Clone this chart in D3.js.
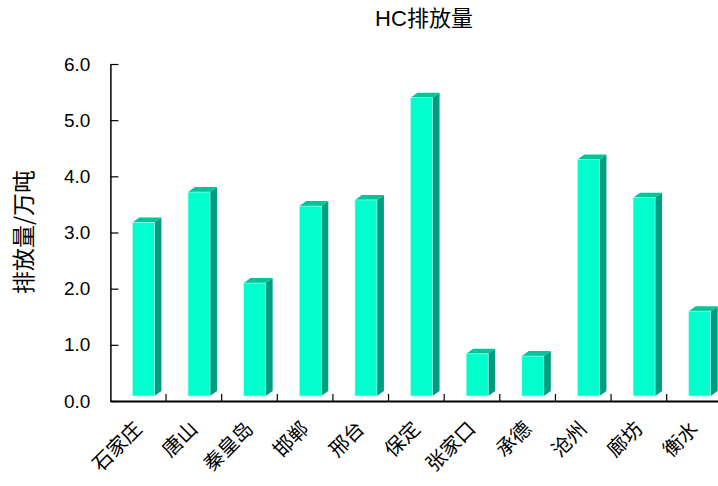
<!DOCTYPE html>
<html><head><meta charset="utf-8">
<script src="https://cdn.jsdelivr.net/npm/d3@7/dist/d3.min.js"></script>
<style>body{margin:0;background:#fff;}svg{display:block;}</style>
</head><body>
<svg id="c" width="718" height="486"></svg>
<script>
const categories = ["石家庄","唐山","秦皇岛","邯郸","邢台","保定","张家口","承德","沧州","廊坊","衡水"];
const values = [3.18, 3.72, 2.10, 3.47, 3.58, 5.40, 0.84, 0.80, 4.30, 3.62, 1.60];
const yTicks = [0, 1, 2, 3, 4, 5, 6];
const title = "HC排放量";
const yTitle = "排放量/万吨";

const svg = d3.select("#c");
const x0 = 110.4, bandW = 55.63;
const x = d3.scaleBand().domain(categories).range([x0, x0 + bandW * categories.length]).padding(0);
const y = d3.scaleLinear().domain([0, 6]).range([401, 64]);

// bars
const fw = 22, off = 22, dx = 7, dy = 5, lift = 5;
const g = svg.append("g");
categories.forEach((c, i) => {
  const v = values[i];
  const xl = x(c) + off, xr = xl + fw;
  const yt = y(v), yb = y(0) - lift;
  g.append("polygon")
    .attr("points", [[xr, yt], [xr + dx, yt - dy], [xr + dx, yb - dy], [xr, yb]].map(p => p.join(",")).join(" "))
    .attr("fill", "#009e80");
  g.append("polygon")
    .attr("points", [[xl, yt], [xl + dx, yt - dy], [xr + dx, yt - dy], [xr, yt]].map(p => p.join(",")).join(" "))
    .attr("fill", "#00c49a");
  g.append("rect").attr("x", xl).attr("y", yt).attr("width", fw).attr("height", yb - yt)
    .attr("fill", "#00ffcc").attr("stroke", "#bfffee").attr("stroke-width", 0.6);
});

// y axis
const ya = svg.append("g").attr("transform", `translate(${x0},0)`)
  .call(d3.axisLeft(y).tickValues(yTicks).tickFormat(d3.format(".1f")).tickSizeInner(-8).tickSizeOuter(0).tickPadding(20));
ya.select(".domain").attr("stroke", "#000").attr("stroke-width", 1.5);
ya.selectAll(".tick line").attr("stroke", "#000").attr("stroke-width", 1.2);
ya.selectAll(".tick text").attr("font-family", "'Liberation Sans', Arial, sans-serif").attr("font-size", 19).attr("fill", "#000");

// x axis
const xa = svg.append("g").attr("transform", `translate(0,${y(0)})`)
  .call(d3.axisBottom(x).tickSize(0).tickFormat(""));
xa.select(".domain").attr("stroke", "#000").attr("stroke-width", 2);
categories.forEach((c, i) => {
  if (i === 0) return;
  svg.append("line").attr("x1", x(c)).attr("x2", x(c)).attr("y1", y(0)).attr("y2", y(0) - 7)
    .attr("stroke", "#000").attr("stroke-width", 1.2);
});
svg.selectAll(".xl").data(categories).enter().append("text")
  .attr("class", "xl")
  .attr("transform", d => `translate(${x(d) + bandW / 2 + 5},${y(0) + 29}) rotate(-45)`)
  .attr("text-anchor", "end")
  .attr("font-family", "'Noto Sans CJK SC', sans-serif")
  .attr("font-size", 20)
  .attr("fill", "#000")
  .text(d => d);

// titles
svg.append("text").attr("x", 424).attr("y", 26).attr("text-anchor", "middle")
  .attr("font-family", "'Liberation Sans', Arial, 'Noto Sans CJK SC', sans-serif").attr("font-size", 22)
  .attr("fill", "#000").text(title);
svg.append("text").attr("transform", "translate(32,232) rotate(-90)").attr("text-anchor", "middle")
  .attr("font-family", "'Noto Sans CJK SC', sans-serif").attr("font-size", 23)
  .attr("fill", "#000").text(yTitle);
</script>
</body></html>
